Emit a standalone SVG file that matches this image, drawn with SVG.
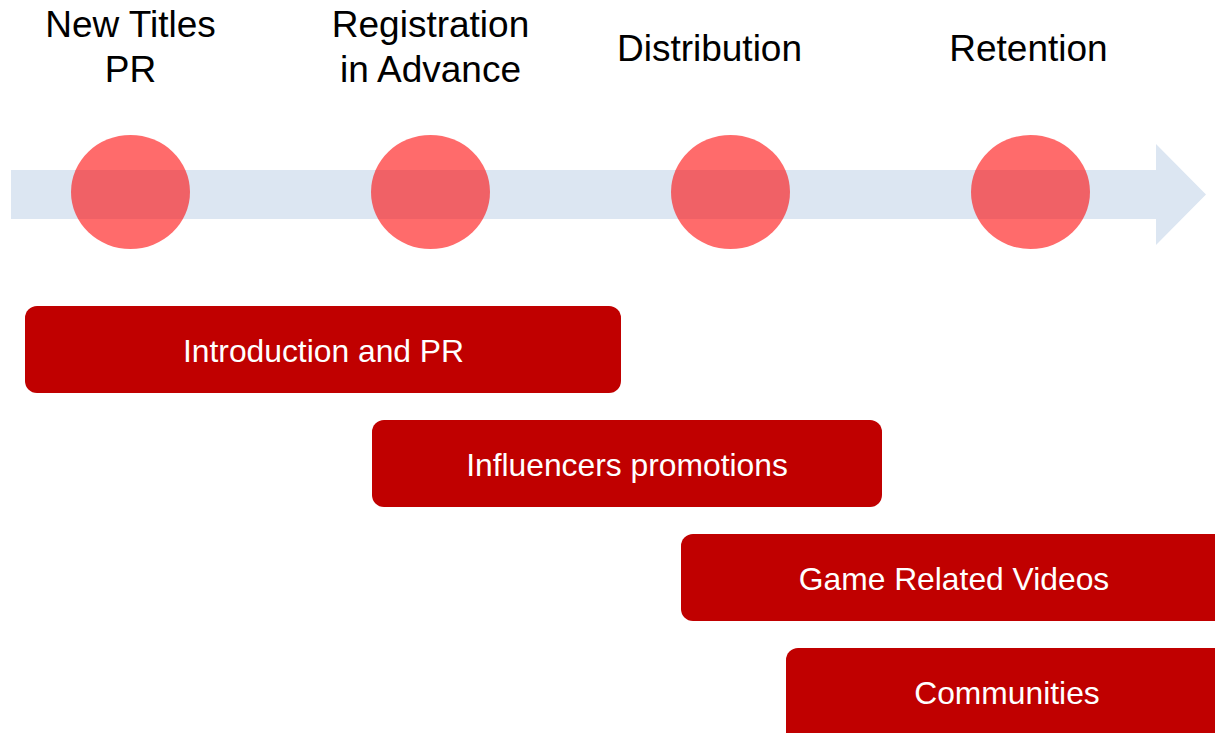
<svg xmlns="http://www.w3.org/2000/svg" width="1215" height="733" viewBox="0 0 1215 733">
  <style>
    .head { font-family: "Liberation Sans", Arial, sans-serif; font-size: 37px; fill: #000000; text-anchor: middle; }
    .bar { fill: #C00000; }
    .bar-label { font-family: "Liberation Sans", Arial, sans-serif; font-size: 31.8px; fill: #FFFFFF; text-anchor: middle; }
    .stage { fill: #FF0000; fill-opacity: 0.58; }
    .timeline { fill: #DCE6F2; }
  </style>

  <!-- timeline arrow -->
  <g id="connectors">
    <path class="timeline" d="M11,170 H1156 V144 L1206,194.5 L1156,245 V219 H11 Z"/>
  </g>

  <!-- stage markers with titles -->
  <g id="stage-new-titles">
    <text class="head" x="130.5" y="37">New Titles</text>
    <text class="head" x="130.5" y="82">PR</text>
    <ellipse class="stage" cx="130.5" cy="192" rx="59.5" ry="57"/>
  </g>
  <g id="stage-registration">
    <text class="head" x="430.5" y="37">Registration</text>
    <text class="head" x="430.5" y="82">in Advance</text>
    <ellipse class="stage" cx="430.5" cy="192" rx="59.5" ry="57"/>
  </g>
  <g id="stage-distribution">
    <text class="head" x="709.5" y="61">Distribution</text>
    <ellipse class="stage" cx="730.5" cy="192" rx="59.5" ry="57"/>
  </g>
  <g id="stage-retention">
    <text class="head" x="1028.5" y="61">Retention</text>
    <ellipse class="stage" cx="1030.5" cy="192" rx="59.5" ry="57"/>
  </g>

  <!-- activity bars -->
  <g id="bar-introduction">
    <rect class="bar" x="25" y="306" width="596" height="87" rx="12"/>
    <text class="bar-label" x="323.5" y="362">Introduction and PR</text>
  </g>
  <g id="bar-influencers">
    <rect class="bar" x="372" y="420" width="510" height="87" rx="12"/>
    <text class="bar-label" x="627" y="476">Influencers promotions</text>
  </g>
  <g id="bar-videos">
    <rect class="bar" x="681" y="534" width="546" height="87" rx="12"/>
    <text class="bar-label" x="954" y="590">Game Related Videos</text>
  </g>
  <g id="bar-communities">
    <rect class="bar" x="786" y="648" width="442" height="100" rx="12"/>
    <text class="bar-label" x="1007" y="704">Communities</text>
  </g>
</svg>
